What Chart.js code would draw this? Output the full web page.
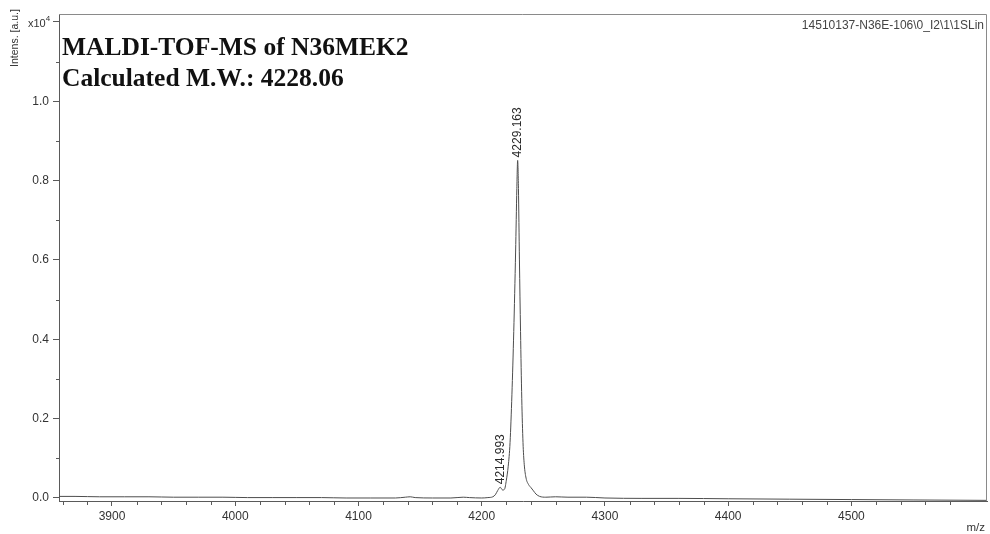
<!DOCTYPE html>
<html>
<head>
<meta charset="utf-8">
<script src="https://cdn.jsdelivr.net/npm/chart.js@4/dist/chart.umd.min.js"></script>
<style>
  html, body { margin: 0; padding: 0; background: #fff; }
  #wrap { width: 990px; height: 534px; }
</style>
</head>
<body>
<div id="wrap"><canvas id="ms" width="990" height="534"></canvas></div>
<script>
// Spectrum: m/z values and intensities (x10^4 a.u.)
const mzValues = [
  3857, 3870, 3890, 3910, 3930, 3950, 3970, 3990, 4010, 4030, 4050, 4070, 4090,
  4110, 4130, 4138, 4142, 4146, 4160, 4175, 4185, 4190, 4200, 4205,
  4209, 4211, 4213, 4214.993, 4217, 4218.5, 4220, 4221.5, 4223, 4224.5, 4226,
  4227.5, 4228.5, 4229.163, 4229.8, 4230.6, 4231.5, 4232.5, 4233.5, 4234.5,
  4236, 4238, 4240, 4242, 4244, 4247, 4252, 4260, 4270, 4285, 4300, 4330,
  4360, 4400, 4450, 4500, 4550, 4610
];
const intensityValues = [
  0.004, 0.004, 0.003, 0.003, 0.003, 0.002, 0.002, 0.002, 0.001, 0.001, 0.001, 0.001, 0.000,
  0.000, 0.000, 0.002, 0.003, 0.001, 0.000, 0.000, 0.002, 0.001, 0.000, 0.001,
  0.003, 0.008, 0.019, 0.027, 0.020, 0.022, 0.045, 0.080, 0.140, 0.260, 0.420,
  0.620, 0.780, 0.851, 0.780, 0.600, 0.420, 0.250, 0.140, 0.085,
  0.050, 0.034, 0.026, 0.018, 0.010, 0.004, 0.002, 0.003, 0.002, 0.002, 0.000, -0.001,
  -0.001, -0.002, -0.003, -0.004, -0.005, -0.006
];

// Annotated peaks
const peakMz = [4214.993, 4229.163];
const peakIntensity = [0.027, 0.851];
const peakLabels = ['4214.993', '4229.163'];

// Axis ticks
const xMajorTicks = [3900, 4000, 4100, 4200, 4300, 4400, 4500];
const yMajorTicks = [0.0, 0.2, 0.4, 0.6, 0.8, 1.0, 1.2];
const yTickLabels = ['0.0', '0.2', '0.4', '0.6', '0.8', '1.0', ''];
const xMinorStep = 20;
const yMinorTicks = [0.1, 0.3, 0.5, 0.7, 0.9, 1.1];

const titleLines = ['MALDI-TOF-MS of N36MEK2', 'Calculated M.W.: 4228.06'];
const fileTag = '14510137-N36E-106\\0_I2\\1\\1SLin';

const AXIS = '#5a5a5a';
const TEXT = '#2a2a2a';
const SANS = '"Liberation Sans", Arial, sans-serif';

const decorations = {
  id: 'decorations',
  afterDraw(chart) {
    const { ctx, chartArea: a, scales: { x, y } } = chart;
    ctx.save();

    // frame top and right edges
    ctx.strokeStyle = '#8a8a8a';
    ctx.lineWidth = 1;
    ctx.beginPath();
    ctx.moveTo(a.left, a.top + 0.5);
    ctx.lineTo(a.right - 0.5, a.top + 0.5);
    ctx.lineTo(a.right - 0.5, a.bottom);
    ctx.stroke();

    // minor ticks
    ctx.strokeStyle = AXIS;
    ctx.beginPath();
    for (let v = Math.ceil(x.min / xMinorStep) * xMinorStep; v <= x.max; v += xMinorStep) {
      if (v % 100 === 0) continue;
      const px = Math.round(x.getPixelForValue(v)) + 0.5;
      ctx.moveTo(px, a.bottom);
      ctx.lineTo(px, a.bottom + 4);
    }
    yMinorTicks.forEach(v => {
      const py = Math.round(y.getPixelForValue(v)) + 0.5;
      ctx.moveTo(a.left - 3, py);
      ctx.lineTo(a.left, py);
    });
    ctx.stroke();

    // peak labels, rotated
    ctx.fillStyle = TEXT;
    ctx.font = '12px ' + SANS;
    ctx.textAlign = 'left';
    ctx.textBaseline = 'middle';
    peakLabels.forEach((t, i) => {
      const px = x.getPixelForValue(peakMz[i]);
      const py = y.getPixelForValue(peakIntensity[i]);
      ctx.save();
      ctx.translate(px, py - 3);
      ctx.rotate(-Math.PI / 2);
      ctx.fillText(t, 0, 0);
      ctx.restore();
    });

    // y axis title
    ctx.save();
    ctx.font = '10.5px ' + SANS;
    ctx.fillStyle = '#333';
    ctx.textAlign = 'center';
    ctx.textBaseline = 'middle';
    ctx.translate(15, 38);
    ctx.rotate(-Math.PI / 2);
    ctx.fillText('Intens. [a.u.]', 0, 0);
    ctx.restore();

    // exponent marker at the top tick
    const yTop = y.getPixelForValue(1.2);
    ctx.font = '11px ' + SANS;
    ctx.fillStyle = '#333';
    ctx.textAlign = 'left';
    ctx.textBaseline = 'alphabetic';
    ctx.fillText('x10', 28, yTop + 5);
    const w = ctx.measureText('x10').width;
    ctx.font = '8px ' + SANS;
    ctx.fillText('4', 28 + w, yTop - 1);

    // x axis unit
    ctx.font = '11.5px ' + SANS;
    ctx.textAlign = 'right';
    ctx.fillText('m/z', 985, 531);

    // file tag, top right
    ctx.font = '12px ' + SANS;
    ctx.fillStyle = '#444';
    ctx.textAlign = 'right';
    ctx.textBaseline = 'middle';
    ctx.fillText(fileTag, 984, 26);

    // title block
    ctx.font = 'bold 25.5px "Liberation Serif", "Times New Roman", serif';
    ctx.fillStyle = '#111';
    ctx.textAlign = 'left';
    ctx.textBaseline = 'alphabetic';
    ctx.fillText(titleLines[0], 62, 55);
    ctx.fillText(titleLines[1], 62, 86);

    ctx.restore();
  }
};

new Chart(document.getElementById('ms'), {
  type: 'line',
  data: {
    datasets: [{
      data: mzValues.map((m, i) => ({ x: m, y: intensityValues[i] })),
      borderColor: '#4d4d4d',
      borderWidth: 1,
      pointRadius: 0,
      cubicInterpolationMode: 'monotone',
      fill: false
    }]
  },
  options: {
    responsive: false,
    animation: false,
    devicePixelRatio: 1,
    layout: { padding: { left: 0, top: 14, right: 3, bottom: 0 } },
    plugins: { legend: { display: false }, tooltip: { enabled: false }, title: { display: false } },
    scales: {
      x: {
        type: 'linear',
        min: 3857,
        max: 4610,
        afterFit: s => { s.height = 33; },
        afterBuildTicks: s => { s.ticks = xMajorTicks.map(v => ({ value: v })); },
        grid: { drawOnChartArea: false, tickLength: 5, color: AXIS },
        border: { display: true, color: AXIS },
        ticks: {
          color: '#333',
          font: { family: SANS, size: 12 },
          padding: 3,
          maxRotation: 0,
          callback: v => String(v)
        }
      },
      y: {
        type: 'linear',
        min: -0.0076,
        max: 1.22,
        afterFit: s => { s.width = 59; },
        afterBuildTicks: s => { s.ticks = yMajorTicks.map(v => ({ value: v })); },
        grid: { drawOnChartArea: false, tickLength: 6, color: AXIS },
        border: { display: true, color: AXIS },
        ticks: {
          color: '#333',
          font: { family: SANS, size: 12 },
          padding: 4,
          callback: (v, i) => yTickLabels[i]
        }
      }
    }
  },
  plugins: [decorations]
});
</script>
</body>
</html>
